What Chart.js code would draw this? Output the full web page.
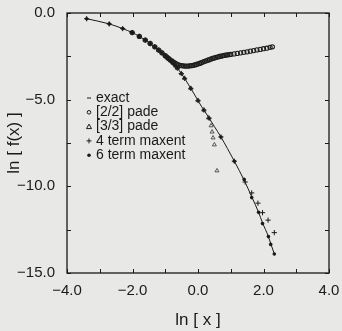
<!DOCTYPE html>
<html>
<head>
<meta charset="utf-8">
<script src="https://cdn.jsdelivr.net/npm/chart.js@4/dist/chart.umd.min.js"></script>
<style>
  html, body { margin: 0; padding: 0; background: #e8e8e6; }
  #wrap { width: 342px; height: 331px; }
</style>
</head>
<body>
<div id="wrap"><canvas id="c" width="342" height="331"></canvas></div>
<script>
// ln[x] / ln[f(x)]
const exactX = [-3.40,-2.71,-2.30,-2.01,-1.79,-1.61,-1.46,-1.32,-1.20,-1.10,-1.00,-0.90,-0.80,-0.70,-0.60,-0.50,-0.40,-0.30,-0.20,-0.10,0.00,0.10,0.20,0.35,0.50,0.70,0.90,1.11,1.41,1.64,1.85,1.97,2.15,2.22,2.33]
const exactY = [-0.33,-0.63,-0.90,-1.13,-1.35,-1.56,-1.76,-1.95,-2.14,-2.30,-2.46,-2.63,-2.82,-3.03,-3.26,-3.52,-3.80,-4.10,-4.41,-4.73,-5.05,-5.37,-5.65,-6.10,-6.55,-7.15,-7.82,-8.55,-9.65,-10.60,-11.50,-12.10,-12.90,-13.30,-13.90]

const pade22X = [-2.01,-1.79,-1.61,-1.46,-1.32,-1.20,-1.10,-1.00,-0.95,-0.90,-0.85,-0.80,-0.75,-0.70,-0.65,-0.60,-0.55,-0.50,-0.45,-0.40,-0.35,-0.30,-0.25,-0.20,-0.15,-0.10,-0.05,0.00,0.05,0.10,0.15,0.20,0.25,0.30,0.35,0.40,0.45,0.50,0.55,0.60,0.65,0.70,0.75,0.80,0.85,0.90,0.95,1.00,1.10,1.20,1.30,1.40,1.50,1.60,1.70,1.80,1.90,2.00,2.10,2.20,2.27]
const pade22Y = [-1.13,-1.35,-1.56,-1.76,-1.95,-2.14,-2.30,-2.46,-2.54,-2.62,-2.70,-2.77,-2.84,-2.90,-2.95,-2.99,-3.02,-3.04,-3.05,-3.06,-3.06,-3.06,-3.05,-3.04,-3.02,-3.00,-2.97,-2.94,-2.91,-2.87,-2.83,-2.79,-2.76,-2.72,-2.69,-2.65,-2.62,-2.59,-2.56,-2.54,-2.51,-2.49,-2.47,-2.45,-2.43,-2.42,-2.40,-2.39,-2.36,-2.33,-2.30,-2.27,-2.24,-2.20,-2.17,-2.13,-2.10,-2.06,-2.03,-1.98,-1.95]

const pade33X = [-1.20,-1.10,-1.00,-0.92,-0.84,-0.76,-0.69,-0.63,-0.51,-0.41,-0.22,0.00,0.18,0.32,0.40,0.43,0.46,0.50,0.58]
const pade33Y = [-2.14,-2.30,-2.46,-2.59,-2.74,-2.90,-3.05,-3.19,-3.49,-3.77,-4.35,-5.05,-5.60,-6.05,-6.50,-6.86,-7.20,-7.60,-9.10]

const max4X = [-3.40,-2.71,-2.30,-2.01,-1.79,-1.61,-1.46,-1.32,-1.20,-1.10,-1.00,-0.92,-0.84,-0.76,-0.69,-0.63,-0.51,-0.41,-0.22,0.00,0.18,0.34,0.70,1.11,1.44,1.64,1.83,1.97,2.14,2.33]
const max4Y = [-0.33,-0.63,-0.90,-1.13,-1.35,-1.56,-1.76,-1.95,-2.14,-2.30,-2.46,-2.59,-2.74,-2.90,-3.05,-3.19,-3.49,-3.77,-4.35,-5.05,-5.60,-6.07,-7.15,-8.55,-9.75,-10.38,-10.97,-11.52,-11.95,-12.67]

const max6X = [-3.40,-2.71,-2.30,-2.01,-1.79,-1.61,-1.46,-1.32,-1.20,-1.10,-1.00,-0.92,-0.84,-0.76,-0.69,-0.63,-0.51,-0.41,-0.22,0.00,0.18,0.34,0.70,1.11,1.41,1.64,1.85,1.97,2.15,2.22,2.33]
const max6Y = [-0.33,-0.63,-0.90,-1.13,-1.35,-1.56,-1.76,-1.95,-2.14,-2.30,-2.46,-2.59,-2.74,-2.90,-3.05,-3.19,-3.49,-3.77,-4.35,-5.05,-5.60,-6.07,-7.15,-8.55,-9.60,-10.65,-11.50,-12.15,-12.90,-13.35,-13.90]

const xTickMarks = [-4,-3,-2,-1,0,1,2,3,4]
const yTickMarks = [0,-2.5,-5,-7.5,-10,-12.5,-15]
const legendLabels = ["exact", "[2/2] pade", "[3/3] pade", "4 term maxent", "6 term maxent"]

const ink = "#1a1a1a"
const bg = "#e8e8e6"
const font = "'Liberation Sans', Arial, sans-serif"

const pts = (xs, ys) => xs.map((x, i) => ({ x, y: ys[i] }))

// frame, inward ticks and the legend box
const framePlugin = {
    id: "frame",
    beforeDraw(chart) {
        const ctx = chart.ctx
        ctx.save()
        ctx.fillStyle = bg
        ctx.fillRect(0, 0, chart.width, chart.height)
        ctx.restore()
    },
    afterDraw(chart) {
        const { ctx, chartArea: a, scales } = chart
        ctx.save()
        ctx.strokeStyle = ink
        ctx.lineWidth = 1.3
        ctx.strokeRect(a.left, a.top, a.right - a.left, a.bottom - a.top)
        ctx.lineWidth = 1
        ctx.beginPath()
        xTickMarks.forEach(v => {
            const px = Math.round(scales.x.getPixelForValue(v)) + 0.5
            ctx.moveTo(px, a.bottom); ctx.lineTo(px, a.bottom - 4)
            ctx.moveTo(px, a.top); ctx.lineTo(px, a.top + 4)
        })
        yTickMarks.forEach(v => {
            const py = Math.round(scales.y.getPixelForValue(v)) + 0.5
            ctx.moveTo(a.left, py); ctx.lineTo(a.left + 4, py)
            ctx.moveTo(a.right, py); ctx.lineTo(a.right - 4, py)
        })
        ctx.stroke()

        // legend
        const lx = 88, ly = 98, step = 14.3
        ctx.font = "14px " + font
        ctx.fillStyle = ink
        ctx.textBaseline = "middle"
        legendLabels.forEach((t, i) => {
            const y = ly + i * step
            ctx.fillText(t, lx + 8, y)
            ctx.beginPath()
            if (i == 0) {
                ctx.moveTo(lx - 1, y); ctx.lineTo(lx + 3, y); ctx.stroke()
            } else if (i == 1) {
                ctx.arc(lx + 1, y, 1.8, 0, Math.PI * 2); ctx.stroke()
            } else if (i == 2) {
                ctx.moveTo(lx + 1, y - 2.5); ctx.lineTo(lx + 3.5, y + 2); ctx.lineTo(lx - 1.5, y + 2); ctx.closePath(); ctx.stroke()
            } else if (i == 3) {
                ctx.moveTo(lx - 1.5, y); ctx.lineTo(lx + 3.5, y); ctx.moveTo(lx + 1, y - 2.5); ctx.lineTo(lx + 1, y + 2.5); ctx.stroke()
            } else {
                ctx.arc(lx + 1, y, 1.8, 0, Math.PI * 2); ctx.fill()
            }
        })
        ctx.restore()
    }
}

new Chart(document.getElementById("c"), {
    type: "scatter",
    data: {
        datasets: [
            { label: "exact", data: pts(exactX, exactY), showLine: true, borderColor: ink, borderWidth: 1, pointRadius: 0, cubicInterpolationMode: "monotone" },
            { label: "[2/2] pade", data: pts(pade22X, pade22Y), pointStyle: "circle", pointRadius: 2.1, borderWidth: 1.1, borderColor: "#1e1e1e", backgroundColor: "rgba(0,0,0,0)" },
            { label: "[3/3] pade", data: pts(pade33X, pade33Y), pointStyle: "triangle", pointRadius: 2.3, borderWidth: 0.8, borderColor: "#333", backgroundColor: "rgba(0,0,0,0)" },
            { label: "4 term maxent", data: pts(max4X, max4Y), pointStyle: "cross", pointRadius: 2.6, borderWidth: 1, borderColor: ink },
            { label: "6 term maxent", data: pts(max6X, max6Y), pointStyle: "circle", pointRadius: 1.8, borderWidth: 0, backgroundColor: ink }
        ]
    },
    options: {
        responsive: false,
        animation: false,
        layout: { padding: { left: 0, right: 13, top: 9, bottom: 0 } },
        plugins: { legend: { display: false }, tooltip: { enabled: false } },
        scales: {
            x: {
                type: "linear", min: -4, max: 4,
                grid: { display: false }, border: { display: false },
                ticks: { stepSize: 2, padding: 1, color: ink, font: { family: font, size: 15 }, callback: v => v.toFixed(1).replace("-", "\u2212") },
                title: { display: true, text: "ln [ x ]", color: ink, font: { family: font, size: 17 }, padding: { top: 4, bottom: 0 } },
                afterFit: s => { s.height = 58 }
            },
            y: {
                type: "linear", min: -15, max: 0,
                grid: { display: false }, border: { display: false },
                ticks: { stepSize: 5, padding: 4, color: ink, font: { family: font, size: 15 }, callback: v => v.toFixed(1).replace("-", "\u2212") },
                title: { display: true, text: "ln [ f(x) ]", color: ink, font: { family: font, size: 17 }, padding: { bottom: 0 } },
                afterFit: s => { s.width = 67 }
            }
        }
    },
    plugins: [framePlugin]
})
</script>
</body>
</html>
